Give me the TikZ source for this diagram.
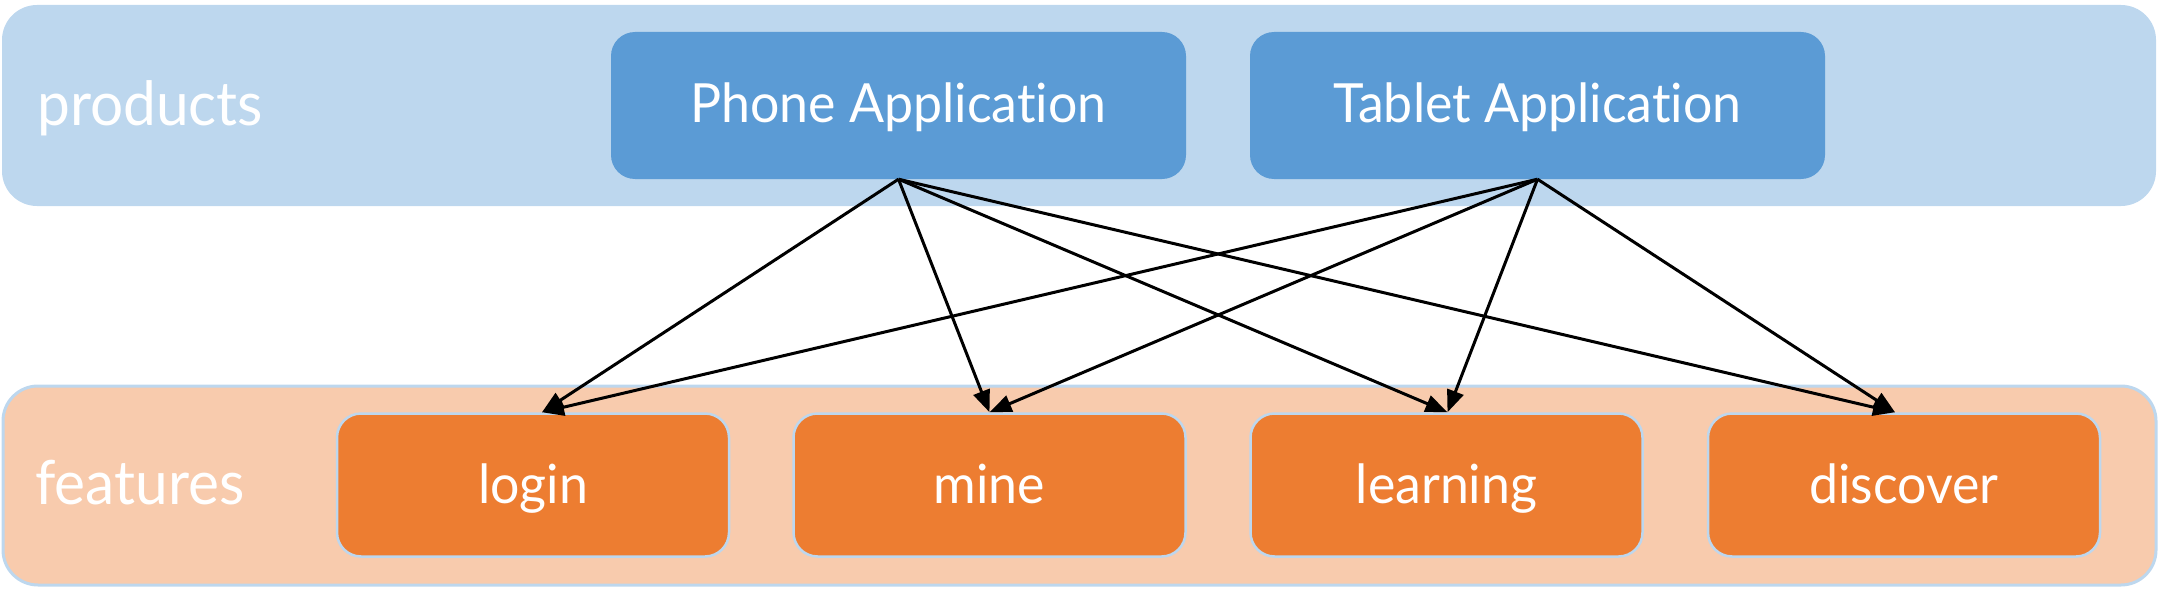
\documentclass[tikz,border=0pt]{standalone}
\usepackage{fontspec}
\setmainfont{Lato}[FakeStretch=0.96, Ligatures={NoCommon}]
\usetikzlibrary{arrows.meta}
\definecolor{blueLight}{HTML}{BDD7EE}
\definecolor{blueDark}{HTML}{5B9BD5}
\definecolor{peach}{HTML}{F8CBAD}
\definecolor{orangeBox}{HTML}{ED7D31}
\tikzset{
  container/.style={rounded corners=35pt},
  prodbox/.style={rectangle, rounded corners=24pt, fill=blueDark, inner sep=0pt,
    minimum width=575pt, minimum height=147pt, text=white,
    font=\fontsize{54}{64}\selectfont, text height=40pt, text depth=5pt},
  featbox/.style={rectangle, rounded corners=24pt, fill=orangeBox, draw=blueLight,
    line width=2.5pt, inner sep=0pt, minimum width=392pt, minimum height=143pt,
    text=white, font=\fontsize{54}{64}\selectfont, text height=40pt, text depth=4pt},
  grouplabel/.style={anchor=base west, inner sep=0pt, text=white,
    font=\fontsize{61}{72}\selectfont},
  arr/.style={line width=3pt, -{Triangle[length=22pt,width=17pt]}},
}
\begin{document}
\begin{tikzpicture}[x=1pt,y=-1pt]
\useasboundingbox (0,0) rectangle (2159,591);
% containers
\fill[blueLight, container] (2,5) rectangle (2156,206);
\filldraw[fill=peach, draw=blueLight, line width=3pt, container] (3,386) rectangle (2156,585);
% labels
\node[grouplabel] (prodlabel) at (37,126) {products};
\node[grouplabel] (featlabel) at (35,504) {features};
% product boxes
\node[prodbox] (phone) at (898.5,105.5) {Phone Application};
\node[prodbox] (tablet) at (1537.5,105.5) {Tablet Application};
% feature boxes
\node[featbox] (login) at (533,485) {login};
\node[featbox] (mine) at (989.5,485) {mine};
\node[featbox] (learning) at (1446.5,485) {learning};
\node[featbox] (discover) at (1904,485) {discover};
% connectors
\draw[arr] (phone.south) -- ([xshift=9pt]login.north);
\draw[arr] (phone.south) -- (mine.north);
\draw[arr] (phone.south) -- ([xshift=1pt]learning.north);
\draw[arr] (phone.south) -- ([xshift=-9pt]discover.north);
\draw[arr] (tablet.south) -- ([xshift=9pt]login.north);
\draw[arr] (tablet.south) -- (mine.north);
\draw[arr] (tablet.south) -- ([xshift=1pt]learning.north);
\draw[arr] (tablet.south) -- ([xshift=-9pt]discover.north);
\end{tikzpicture}
\end{document}
